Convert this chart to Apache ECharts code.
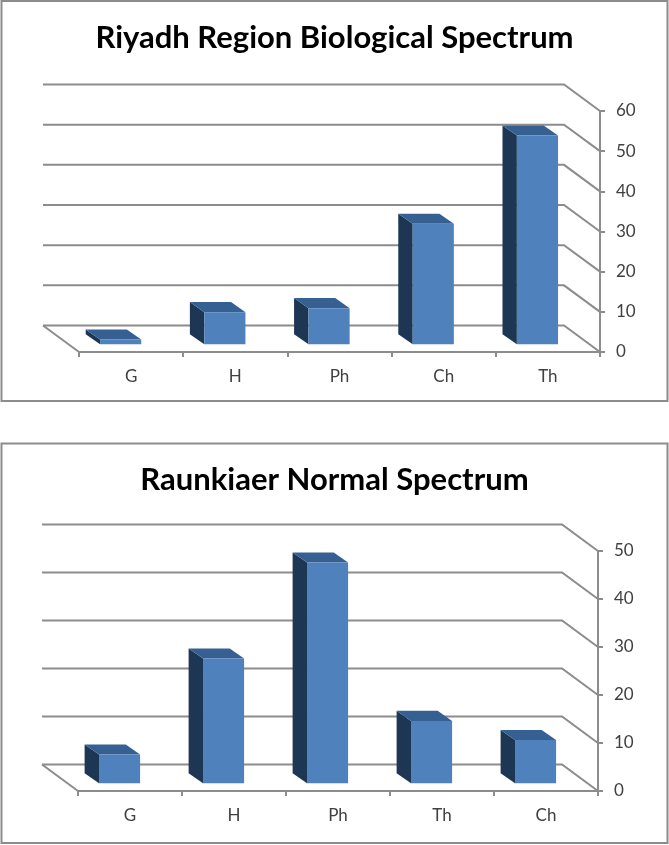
<!DOCTYPE html>
<html>
<head>
<meta charset="utf-8">
<title>Biological Spectrum</title>
<style>
html,body{margin:0;padding:0;background:#fff}
#chart{width:669px;height:845px}
</style>
<script src="https://cdn.jsdelivr.net/npm/echarts@6/dist/echarts.min.js"></script>
</head>
<body>
<div id="chart"></div>
<script>
// values
let riyadhCats = ["G","H","Ph","Ch","Th"];
let riyadhVals = [1.2,8,9,30,52];
let riyadhTicks = [0,10,20,30,40,50,60];

let normalCats = ["G","H","Ph","Th","Ch"];
let normalVals = [6,26,46,13,9];
let normalTicks = [0,10,20,30,40,50];

let myChar = echarts.init(document.getElementById("chart"));

// fake 3d: the wall sits this far behind the front axis plane
const wallDx = -36, wallDy = -26.5;
const lineCol = "#8c8c8c";

// back wall lines + the diagonal on the side wall
function wallItem(params, api){
    let r = params.coordSys;
    let y = api.coord([0, api.value(1)])[1];
    let x2 = r.x + r.width;
    let isFloor = api.value(1) === 0;
    let children = [{
        type:"polyline",
        shape:{points:[[r.x+wallDx, y+wallDy],[x2+wallDx, y+wallDy],[x2, y]]},
        style:{stroke:lineCol, lineWidth:2, fill:null}
    }];
    if(isFloor){
        children.push({
            type:"line",
            shape:{x1:r.x+wallDx, y1:y+wallDy, x2:r.x, y2:y},
            style:{stroke:lineCol, lineWidth:2}
        });
    }
    return {type:"group", children:children};
}

function barItem(params, api){
    let i = api.value(0);
    let base = api.coord([i, 0]);
    let top = api.coord([i, api.value(1)]);
    let w = api.size([1,0])[0]*0.395;
    // front face is 0.29 of the depth back, rear face 0.69
    let fx = base[0]-w/2+wallDx*0.29, fy = wallDy*0.29;
    let bx = wallDx*0.40, by = wallDy*0.38;
    let y0 = base[1]+fy, y1 = top[1]+fy;
    return {type:"group", children:[
        {type:"polygon", shape:{points:[[fx,y0],[fx,y1],[fx+bx,y1+by],[fx+bx,y0+by]]}, style:{fill:"#1d3654"}},
        {type:"polygon", shape:{points:[[fx,y1],[fx+w,y1],[fx+w+bx,y1+by],[fx+bx,y1+by]]}, style:{fill:"#376092"}},
        {type:"rect", shape:{x:fx, y:y1, width:w, height:y0-y1}, style:{fill:"#4f81bd"}}
    ]};
}

function toPairs(list){
    return list.map((v,i) => [i,v]);
}

function catAxis(idx, cats){
    return {
        type:"category",
        gridIndex:idx,
        data:cats,
        axisLine:{lineStyle:{color:lineCol, width:2}},
        axisTick:{show:true, length:5, lineStyle:{color:lineCol, width:2}},
        axisLabel:{color:"#404040", fontFamily:"Lato", fontSize:17, margin:16},
        splitLine:{show:false}
    };
}

function valAxis(idx, ticks){
    return {
        type:"value",
        gridIndex:idx,
        position:"right",
        min:0,
        max:ticks[ticks.length-1],
        interval:10,
        axisLine:{show:true, lineStyle:{color:lineCol, width:2}},
        axisTick:{show:true, length:5, lineStyle:{color:lineCol, width:2}},
        axisLabel:{color:"#404040", fontFamily:"Lato", fontSize:17, margin:16},
        splitLine:{show:false}
    };
}

function titleOf(text, top){
    return {
        text:text,
        left:329.5,
        top:top,
        textAlign:"center",
        textStyle:{color:"#000", fontFamily:"Lato", fontWeight:"bold", fontSize:31}
    };
}

function frame(y, h){
    return {
        type:"rect",
        silent:true,
        shape:{x:1.5, y:y, width:666, height:h},
        style:{fill:"none", stroke:"#8c8c8c", lineWidth:2}
    };
}

myChar.setOption({
    animation:false,
    backgroundColor:"#fff",
    title:[
        titleOf("Riyadh Region Biological Spectrum", 17),
        titleOf("Raunkiaer Normal Spectrum", 459)
    ],
    graphic:[frame(1,400), frame(443.5,399.5)],
    grid:[
        {left:79, width:521, top:111, height:241},
        {left:78, width:520, top:551, height:240}
    ],
    xAxis:[catAxis(0,riyadhCats), catAxis(1,normalCats)],
    yAxis:[valAxis(0,riyadhTicks), valAxis(1,normalTicks)],
    series:[
        {type:"custom", name:"wall", xAxisIndex:0, yAxisIndex:0, clip:false, z:1, silent:true,
            renderItem:wallItem, data:toPairs(riyadhTicks)},
        {type:"custom", name:"Riyadh", xAxisIndex:0, yAxisIndex:0, clip:false, z:3,
            renderItem:barItem, data:toPairs(riyadhVals)},
        {type:"custom", name:"wall", xAxisIndex:1, yAxisIndex:1, clip:false, z:1, silent:true,
            renderItem:wallItem, data:toPairs(normalTicks)},
        {type:"custom", name:"Raunkiaer", xAxisIndex:1, yAxisIndex:1, clip:false, z:3,
            renderItem:barItem, data:toPairs(normalVals)}
    ]
});
</script>
</body>
</html>
